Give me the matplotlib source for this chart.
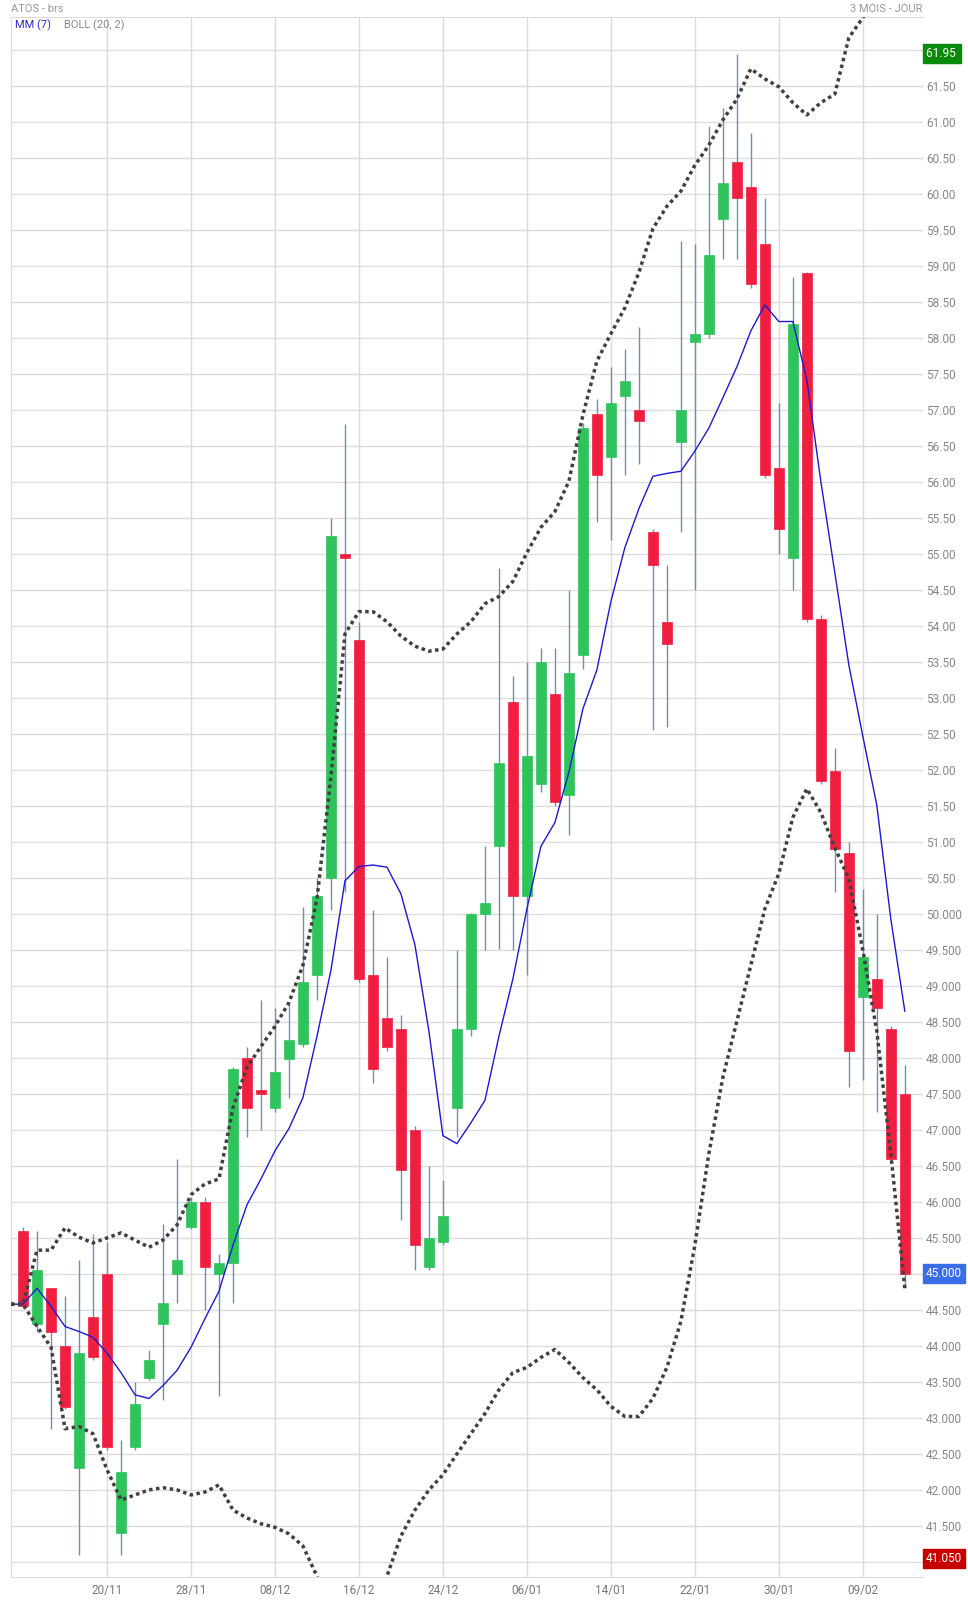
import matplotlib
matplotlib.use("Agg")
import matplotlib.pyplot as plt
import numpy as np
from matplotlib.patches import Rectangle

plt.rcParams['font.family'] = ['Roboto', 'DejaVu Sans']

dates = ["20/11", "28/11", "08/12", "16/12", "24/12", "06/01", "14/01", "22/01", "30/01", "09/02"]
date_idx = [6, 12, 18, 24, 30, 36, 42, 48, 54, 60]

opens = [45.6, 44.3, 44.8, 44.0, 42.3, 44.4, 45.0, 41.4, 42.6, 43.55, 44.3, 45.0, 45.65, 46.0, 45.0, 45.15,
         48.0, 47.55, 47.3, 47.98, 48.2, 49.15, 50.5, 55.0, 53.8, 49.15, 48.55, 48.4, 47.0, 45.1, 45.45, 47.3,
         48.4, 50.0, 50.95, 52.95, 50.25, 51.8, 53.05, 51.65, 53.6, 56.95, 56.35, 57.2, 57.0, 55.3, 54.05, 56.55,
         57.95, 58.05, 59.65, 60.45, 60.1, 59.3, 56.2, 54.95, 58.9, 54.1, 51.99, 50.85, 48.85, 49.1, 48.4, 47.5]
closes = [44.55, 45.05, 44.2, 43.15, 43.9, 43.85, 42.6, 42.25, 43.2, 43.8, 44.6, 45.2, 46.0, 45.1, 45.15, 47.85,
          47.3, 47.5, 47.8, 48.25, 49.05, 50.25, 55.25, 54.95, 49.1, 47.85, 48.15, 46.45, 45.4, 45.5, 45.8, 48.4,
          50.0, 50.15, 52.1, 50.25, 52.2, 53.5, 51.55, 53.35, 56.75, 56.1, 57.1, 57.4, 56.85, 54.85, 53.75, 57.0,
          58.05, 59.15, 60.15, 59.95, 58.75, 56.1, 55.35, 58.2, 54.1, 51.85, 50.9, 48.1, 49.4, 48.7, 46.6, 45.0]
highs = [45.65, 45.6, 44.8, 44.7, 45.2, 45.55, 45.45, 42.7, 43.5, 43.95, 45.7, 46.6, 46.07, 46.07, 45.27, 47.87,
         48.15, 48.8, 48.7, 48.75, 50.1, 50.5, 55.5, 56.8, 54.05, 50.05, 49.4, 48.6, 47.05, 46.5, 46.3, 49.5,
         50.02, 50.95, 54.8, 53.3, 53.5, 53.7, 53.7, 54.5, 56.82, 57.15, 57.6, 57.85, 58.15, 55.35, 54.85, 59.35,
         59.3, 60.95, 61.2, 61.95, 60.85, 59.95, 57.1, 58.85, 58.92, 54.15, 52.3, 51.0, 50.35, 50.0, 48.45, 47.9]
lows = [44.52, 44.2, 42.85, 43.12, 41.1, 43.8, 42.55, 41.1, 42.55, 43.52, 43.25, 44.6, 45.62, 44.5, 43.3, 44.6,
        46.9, 47.0, 47.25, 47.45, 48.15, 48.8, 50.05, 50.3, 49.05, 47.65, 48.1, 45.75, 45.05, 45.05, 45.4, 46.9,
        48.3, 49.5, 49.52, 49.5, 49.15, 51.7, 51.5, 51.1, 53.4, 55.45, 55.2, 56.1, 56.25, 52.55, 52.6, 55.3,
        54.5, 58.0, 59.1, 59.1, 58.7, 56.05, 55.0, 54.5, 54.05, 51.8, 50.3, 47.6, 47.7, 47.25, 46.55, 44.8]

ma7 = [44.58, 44.8, 44.55, 44.27, 44.2, 44.12, 43.9, 43.63, 43.32, 43.27, 43.45, 43.66, 43.98, 44.38, 44.76, 45.4,
       45.96, 46.32, 46.71, 47.02, 47.45, 48.3, 49.22, 50.46, 50.66, 50.68, 50.65, 50.28, 49.57, 48.37, 46.92, 46.81,
       47.1, 47.41, 48.3, 49.1, 50.07, 50.94, 51.27, 51.97, 52.85, 53.39, 54.34, 55.09, 55.63, 56.08, 56.12, 56.15,
       56.43, 56.75, 57.17, 57.6, 58.1, 58.46, 58.23, 58.23, 57.42, 56.01, 54.74, 53.46, 52.47, 51.51, 49.93, 48.65]
boll_up = [44.58, 45.33, 45.33, 45.64, 45.51, 45.43, 45.5, 45.57, 45.47, 45.37, 45.47, 45.68, 46.1, 46.25, 46.32, 47.31,
           47.87, 48.16, 48.44, 48.77, 49.29, 50.21, 51.91, 53.89, 54.2, 54.2, 54.06, 53.86, 53.72, 53.65, 53.68, 53.89,
           54.06, 54.31, 54.41, 54.62, 55.02, 55.37, 55.59, 56.01, 56.93, 57.68, 58.06, 58.42, 58.91, 59.52, 59.83, 60.04,
           60.4, 60.68, 61.03, 61.32, 61.74, 61.6, 61.49, 61.27, 61.1, 61.27, 61.39, 62.17, 62.45, 62.8, 63.1, 63.4]
boll_low = [44.58, 44.27, 43.98, 42.85, 42.88, 42.78, 42.28, 41.86, 41.93, 42.0, 42.03, 42.0, 41.93, 41.97, 42.07, 41.72,
            41.61, 41.53, 41.48, 41.39, 41.22, 40.8, 40.0, 39.4, 39.2, 39.6, 40.8, 41.36, 41.72, 42.0, 42.21, 42.5,
            42.78, 43.06, 43.39, 43.63, 43.7, 43.84, 43.95, 43.77, 43.56, 43.39, 43.16, 43.02, 43.02, 43.27, 43.7, 44.34,
            45.4, 46.67, 47.73, 48.51, 49.29, 50.07, 50.56, 51.34, 51.74, 51.41, 50.92, 50.49, 49.5, 48.37, 46.67, 44.8]

W, H = 968, 1601
fig = plt.figure(figsize=(W/100, H/100), dpi=100)
L, R, T, B = 11, 923, 17, 1577
ax = fig.add_axes([L/W, 1-B/H, (R-L)/W, (B-T)/H])
ymin, ymax = 40.79, 62.46
ax.set_xlim(-0.86, 64.3)
ax.set_ylim(ymin, ymax)

grid_c = '#dcdcdc'
yt = np.arange(41.0, 62.01, 0.5)
ax.set_yticks(yt)
ax.set_xticks(date_idx)
ax.grid(True, color=grid_c, lw=1)
ax.set_axisbelow(True)
for s in ax.spines.values():
    s.set_color(grid_c)
ax.spines['right'].set_visible(False)
ax.tick_params(length=0)
ax.set_xticklabels(dates, color='#777777', fontsize=8.5)
ax.yaxis.tick_right()
ylabels = [("%.2f" % v) if v >= 50.5 else ("%.3f" % v) for v in yt]
ylabels[0] = ""
ax.set_yticklabels(ylabels, color='#888888', fontsize=8.5)
ax.tick_params(axis='y', pad=2)
ax.tick_params(axis='x', pad=5)

up_c, dn_c, wick_c = '#2ec45b', '#f01f3f', '#6e8fb3'
x = np.arange(len(opens))
for i in x:
    o, c, h, l = opens[i], closes[i], highs[i], lows[i]
    ax.vlines(i, l, h, color=wick_c, lw=1, zorder=2)
    col = up_c if c >= o else dn_c
    bot, ht = min(o, c), max(abs(c - o), 0.05)
    ax.add_patch(Rectangle((i - 0.37, bot), 0.74, ht, facecolor=col, edgecolor=col, lw=0.5, zorder=3))

ax.plot(np.r_[-0.86, x], np.r_[ma7[0], ma7], color='#1a1ad6', lw=1, zorder=4)
ax.plot(np.r_[-0.86, x], np.r_[boll_up[0], boll_up], color='#404040', lw=2.5, ls=(0, (1, 1)), zorder=4)
ax.plot(np.r_[-0.86, x], np.r_[boll_low[0], boll_low], color='#404040', lw=2.5, ls=(0, (1, 1)), zorder=4)

def badge(v, text, color):
    ax.text(1.003, (v - ymin) / (ymax - ymin), text, transform=ax.transAxes, ha='left', va='center',
            color='white', fontsize=8.5, zorder=10,
            bbox=dict(boxstyle='square,pad=0.25', facecolor=color, edgecolor=color))

badge(61.95, "61.95 ", '#0a8a0a')
badge(45.0, "45.000", '#3a6ee8')
badge(41.05, "41.050", '#c80000')

fig.text(11/W, 1-9/H, "ATOS - brs", color='#999999', fontsize=8, va='center', ha='left')
fig.text(922/W, 1-9/H, "3 MOIS - JOUR", color='#999999', fontsize=8, va='center', ha='right')
fig.text(15/W, 1-25/H, "MM (7)", color='#2a2ad0', fontsize=8, va='center', ha='left')
fig.text(64/W, 1-25/H, "BOLL (20, 2)", color='#888888', fontsize=8, va='center', ha='left')

fig.savefig("out.png", dpi=100)
